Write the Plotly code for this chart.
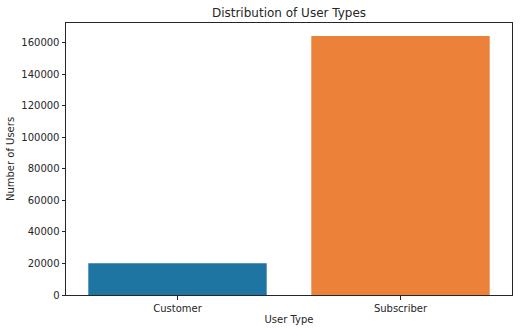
import plotly.graph_objects as go

categories = ["Customer", "Subscriber"]
counts = [20100, 164300]
colors = ["#1f75a1", "#ec823a"]

fig = go.Figure(go.Bar(x=categories, y=counts, marker_color=colors, marker_line_width=0, width=0.8))

font = dict(family="DejaVu Sans", size=10, color="#262626")
axis_common = dict(showline=True, linecolor="#262626", linewidth=1, mirror=True,
                   ticks="outside", ticklen=3.5, tickwidth=0.8, tickcolor="#262626",
                   showgrid=False, zeroline=False, tickfont=font, automargin=False)

fig.update_layout(
    width=530, height=329,
    margin=dict(l=66, r=18, t=23, b=34),
    paper_bgcolor="white", plot_bgcolor="white",
    font=font,
    title=dict(text="Distribution of User Types", x=(66+512)/2/530, xanchor="center",
               y=1-13/329, yanchor="middle", font=dict(family="DejaVu Sans", size=12, color="#262626")),
    showlegend=False,
)
fig.update_xaxes(range=[-0.5, 1.5], title=dict(text="User Type", standoff=3, font=font), **axis_common)
fig.update_yaxes(range=[0, 172500], tickvals=list(range(0, 160001, 20000)),
                 tickformat="d", title=dict(text="Number of Users", standoff=4, font=font), **axis_common)

fig.write_html("out.html")
